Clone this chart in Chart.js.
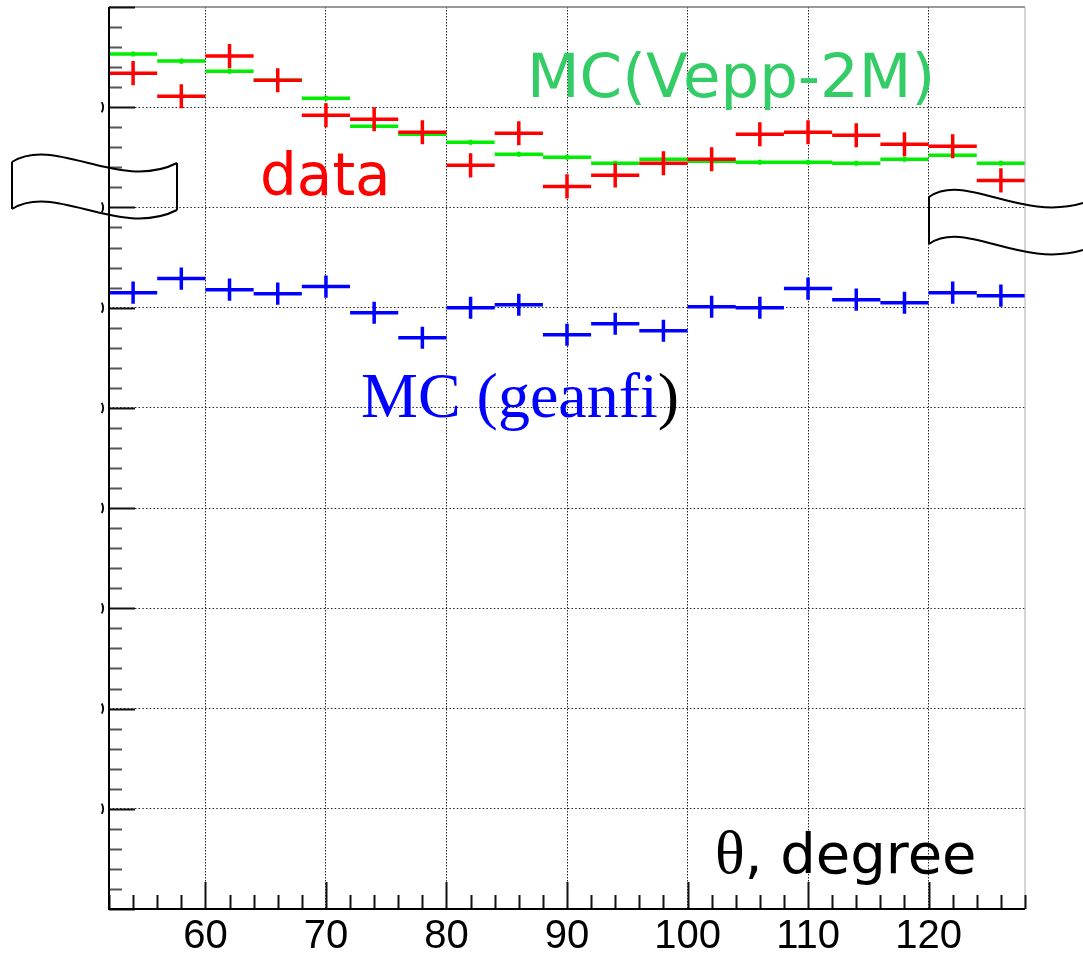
<!doctype html>
<html>

<head>
    <title>Polar angle distribution</title>
    <script src="https://cdn.jsdelivr.net/npm/chart.js@4.4.1/dist/chart.umd.min.js"></script>
    <style>
    body {
        margin: 0;
        background: #fff;
        overflow: hidden;
    }
    #container {
        width: 1083px;
        height: 953px;
        position: relative;
    }
    </style>
</head>

<body>
    <div id="container">
        <canvas id="canvas"></canvas>
    </div>
    <script>
        // theta bins, 4 degrees wide
        var binCenters = [54, 58, 62, 66, 70, 74, 78, 82, 86, 90, 94, 98, 102, 106, 110, 114, 118, 122, 126];
        var binWidth = 4;

        var dataValues = [8.34, 8.11, 8.51, 8.27, 7.92, 7.88, 7.75, 7.42, 7.74, 7.21, 7.32, 7.44, 7.48, 7.73, 7.75, 7.72, 7.63, 7.61, 7.27];
        var dataErrors = [0.12, 0.12, 0.12, 0.12, 0.12, 0.12, 0.12, 0.12, 0.12, 0.12, 0.12, 0.12, 0.12, 0.12, 0.12, 0.12, 0.12, 0.12, 0.12];

        var veppValues = [8.53, 8.46, 8.36, 8.27, 8.09, 7.81, 7.73, 7.65, 7.53, 7.50, 7.44, 7.48, 7.46, 7.45, 7.45, 7.44, 7.48, 7.52, 7.44];
        var veppErrors = [0.025, 0.025, 0.025, 0.025, 0.025, 0.025, 0.025, 0.025, 0.025, 0.025, 0.025, 0.025, 0.025, 0.025, 0.025, 0.025, 0.025, 0.025, 0.025];

        var geanfiValues = [6.15, 6.29, 6.18, 6.14, 6.21, 5.95, 5.70, 6.00, 6.03, 5.73, 5.84, 5.77, 6.01, 6.00, 6.19, 6.08, 6.05, 6.15, 6.12];
        var geanfiErrors = [0.11, 0.11, 0.11, 0.11, 0.11, 0.11, 0.11, 0.11, 0.11, 0.11, 0.11, 0.11, 0.11, 0.11, 0.11, 0.11, 0.11, 0.11, 0.11];

        var xTickLabels = [60, 70, 80, 90, 100, 110, 120];
        var xMin = 52, xMax = 128, xMinorStep = 2;
        var yMin = 0, yMax = 9, yMinorStep = 0.2;

        // each bin -> horizontal bar across the bin plus a vertical error bar, null breaks the line
        function histSegments(values, errors) {
            var pts = [];
            values.forEach(function(v, i) {
                var c = binCenters[i];
                pts.push({x: c - binWidth / 2, y: v}, {x: c + binWidth / 2, y: v}, {x: c, y: null});
                pts.push({x: c, y: v - errors[i]}, {x: c, y: v + errors[i]}, {x: c, y: null});
            });
            return pts;
        }

        function histDataset(label, values, errors, color) {
            return {
                label: label,
                data: histSegments(values, errors),
                borderColor: color,
                borderWidth: 3.5,
                borderCapStyle: 'butt',
                pointRadius: 0,
                spanGaps: false,
                fill: false,
                tension: 0
            };
        }

        // text labels placed in axis units
        var labels = [
            {x: 86.68, y: 8.10, parts: [{t: 'MC(Vepp-2M)', c: '#33cc66', f: '61px "DejaVu Sans"'}]},
            {x: 64.53, y: 7.12, parts: [{t: 'data', c: '#ff0000', f: '58px "DejaVu Sans"'}]},
            {x: 72.91, y: 4.91, parts: [{t: 'MC (geanfi', c: '#0000ff', f: '64px "Liberation Serif"'},
                                        {t: ')', c: '#000000', f: '64px "Liberation Serif"'}]},
            {x: 102.28, y: 0.36, parts: [{t: '\u03b8', c: '#000000', f: '62px "Liberation Serif"'},
                                         {t: ', degree', c: '#000000', f: '56px "DejaVu Sans"'}]}
        ];

        function breakMark(ctx, x0, y0, c1, c2, end, h, closeRight) {
            ctx.beginPath();
            ctx.moveTo(x0, y0);
            ctx.bezierCurveTo(c1[0], c1[1], c2[0], c2[1], end[0], end[1]);
            ctx.moveTo(x0, y0 + h);
            ctx.bezierCurveTo(c1[0], c1[1] + h, c2[0], c2[1] + h, end[0], end[1] + h);
            ctx.moveTo(x0, y0);
            ctx.lineTo(x0, y0 + h);
            if (closeRight) {
                ctx.moveTo(end[0], end[1]);
                ctx.lineTo(end[0], end[1] + h);
            }
            ctx.stroke();
        }

        var frameAndTicks = {
            id: 'frameAndTicks',
            afterDatasetsDraw: function(chart) {
                var ctx = chart.ctx;
                var a = chart.chartArea;
                var xs = chart.scales.x, ys = chart.scales.y;
                ctx.save();

                // top and right frame
                ctx.lineWidth = 1.5;
                ctx.strokeStyle = '#777';
                ctx.beginPath();
                ctx.moveTo(a.left, a.top); ctx.lineTo(a.right, a.top);
                ctx.stroke();
                ctx.lineWidth = 1;
                ctx.strokeStyle = '#aaa';
                ctx.beginPath();
                ctx.moveTo(a.right, a.top); ctx.lineTo(a.right, a.bottom);
                ctx.stroke();

                // inward ticks on x
                ctx.strokeStyle = '#111';
                ctx.lineWidth = 2;
                for (var v = xMin; v <= xMax + 1e-9; v += xMinorStep) {
                    var px = Math.round(xs.getPixelForValue(v)) + 0.5;
                    var major = Math.abs(v % 10) < 1e-9;
                    ctx.beginPath();
                    ctx.moveTo(px, a.bottom);
                    ctx.lineTo(px, a.bottom - (major ? 27 : 14));
                    ctx.stroke();
                }
                // inward ticks on y
                for (var k = 0; k <= Math.round((yMax - yMin) / yMinorStep); k++) {
                    var yv = yMin + k * yMinorStep;
                    var py = Math.round(ys.getPixelForValue(yv)) + 0.5;
                    var ymaj = k % 5 === 0;
                    ctx.strokeStyle = ymaj ? '#111' : '#555';
                    ctx.beginPath();
                    ctx.moveTo(a.left, py);
                    ctx.lineTo(a.left + (ymaj ? 26 : 13), py);
                    ctx.stroke();
                }

                // axis lines
                ctx.strokeStyle = '#000';
                ctx.lineWidth = 2;
                ctx.beginPath();
                ctx.moveTo(a.left, a.top); ctx.lineTo(a.left, a.bottom); ctx.lineTo(a.right, a.bottom);
                ctx.stroke();

                // leftover edges of the y labels
                ctx.lineWidth = 1.8;
                for (var m = 1; m <= 8; m++) {
                    var my = ys.getPixelForValue(m);
                    ctx.beginPath();
                    ctx.ellipse(96, my, 7, 9, 0, -0.6, 0.6);
                    ctx.stroke();
                }

                // axis break marks
                ctx.lineWidth = 2;
                ctx.strokeStyle = '#000';
                breakMark(ctx, 12, 162, [55, 135], [120, 192], [177, 163], 47, true);
                breakMark(ctx, 929, 197, [965, 172], [1020, 222], [1083, 203], 47, false);

                // text
                ctx.textBaseline = 'alphabetic';
                ctx.textAlign = 'left';
                labels.forEach(function(l) {
                    var tx = xs.getPixelForValue(l.x);
                    var ty = ys.getPixelForValue(l.y);
                    l.parts.forEach(function(p) {
                        ctx.font = p.f;
                        ctx.fillStyle = p.c;
                        ctx.fillText(p.t, tx, ty);
                        tx += ctx.measureText(p.t).width;
                    });
                });
                ctx.restore();
            }
        };

        window.onload = function() {
            var ctx = document.getElementById('canvas').getContext('2d');
            window.myChart = new Chart(ctx, {
                type: 'line',
                data: {
                    datasets: [
                        histDataset('data', dataValues, dataErrors, '#ff0000'),
                        histDataset('MC(Vepp-2M)', veppValues, veppErrors, '#00ee00'),
                        histDataset('MC (geanfi)', geanfiValues, geanfiErrors, '#0000ff')
                    ]
                },
                options: {
                    responsive: true,
                    maintainAspectRatio: false,
                    animation: false,
                    layout: {
                        padding: {left: 109, top: 7, right: 58, bottom: 0}
                    },
                    plugins: {
                        legend: {display: false},
                        tooltip: {enabled: false}
                    },
                    scales: {
                        x: {
                            type: 'linear',
                            min: xMin,
                            max: xMax,
                            afterBuildTicks: function(scale) {
                                scale.ticks = xTickLabels.map(function(v) { return {value: v}; });
                            },
                            grid: {
                                color: 'rgba(0,0,0,0.85)',
                                lineWidth: 1,
                                drawTicks: true,
                                tickLength: 11,
                                tickColor: 'rgba(0,0,0,0)'
                            },
                            border: {display: false, dash: [1.5, 1.5]},
                            ticks: {
                                color: '#000',
                                padding: 0.5,
                                maxRotation: 0,
                                autoSkip: false,
                                font: {family: '"Liberation Sans", Arial, sans-serif', size: 40, lineHeight: 0.8}
                            }
                        },
                        y: {
                            type: 'linear',
                            min: yMin,
                            max: yMax,
                            ticks: {display: false, stepSize: 1},
                            grid: {
                                drawTicks: false,
                                lineWidth: 1,
                                color: function(c) {
                                    if (!c.tick || c.tick.value === yMin || c.tick.value === yMax) return 'rgba(0,0,0,0)';
                                    return 'rgba(0,0,0,0.85)';
                                }
                            },
                            border: {display: false, dash: [1.5, 2.2]}
                        }
                    }
                },
                plugins: [frameAndTicks]
            });
        };
    </script>
</body>

</html>
